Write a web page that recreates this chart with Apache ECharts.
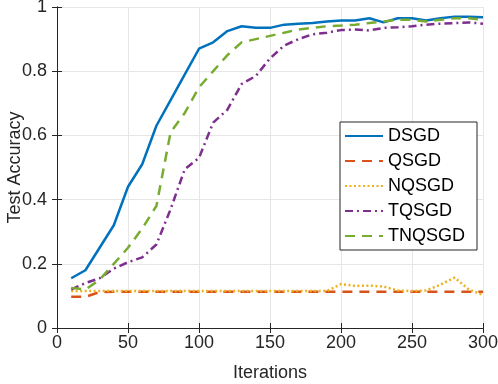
<!DOCTYPE html>
<html>
<head>
<meta charset="utf-8">
<script src="https://cdn.jsdelivr.net/npm/echarts@6/dist/echarts.min.js"></script>
<style>
  html, body { margin: 0; padding: 0; background: #fff; }
  #chart { width: 498px; height: 384px; }
</style>
</head>
<body>
<div id="chart"></div>
<script>
// iterations on the x axis
const iterations = [10, 20, 30, 40, 50, 60, 70, 80, 90, 100,
  110, 120, 130, 140, 150, 160, 170, 180, 190, 200,
  210, 220, 230, 240, 250, 260, 270, 280, 290, 300]

// test accuracy
const dsgd = [0.155, 0.18, 0.25, 0.32, 0.44, 0.51, 0.63, 0.71, 0.79, 0.87,
  0.89, 0.925, 0.94, 0.935, 0.935, 0.945, 0.948, 0.95, 0.955, 0.958,
  0.958, 0.965, 0.952, 0.965, 0.965, 0.958, 0.965, 0.97, 0.97, 0.968]
const qsgd = [0.097, 0.097, 0.112, 0.113, 0.113, 0.113, 0.113, 0.113, 0.113, 0.113,
  0.113, 0.113, 0.113, 0.113, 0.113, 0.113, 0.113, 0.113, 0.113, 0.113,
  0.113, 0.113, 0.113, 0.113, 0.113, 0.113, 0.113, 0.113, 0.113, 0.113]
const nqsgd = [0.115, 0.115, 0.115, 0.115, 0.115, 0.115, 0.115, 0.115, 0.115, 0.115,
  0.115, 0.115, 0.115, 0.115, 0.115, 0.115, 0.115, 0.115, 0.115, 0.137,
  0.131, 0.132, 0.129, 0.117, 0.115, 0.117, 0.135, 0.157, 0.12, 0.103]
const tqsgd = [0.12, 0.14, 0.155, 0.185, 0.205, 0.22, 0.26, 0.37, 0.495, 0.53,
  0.64, 0.68, 0.76, 0.785, 0.84, 0.88, 0.9, 0.915, 0.92, 0.928,
  0.93, 0.927, 0.935, 0.937, 0.94, 0.945, 0.948, 0.95, 0.952, 0.948]
const tnqsgd = [0.125, 0.12, 0.15, 0.2, 0.25, 0.31, 0.38, 0.61, 0.67, 0.75,
  0.8, 0.85, 0.89, 0.9, 0.91, 0.92, 0.93, 0.935, 0.94, 0.942,
  0.945, 0.95, 0.955, 0.96, 0.96, 0.955, 0.96, 0.965, 0.965, 0.96]

const seriesNames = ['DSGD', 'QSGD', 'NQSGD', 'TQSGD', 'TNQSGD']
const seriesData = [dsgd, qsgd, nqsgd, tqsgd, tnqsgd]

const colors = ['#0072BD', '#D95319', '#EDB120', '#7E2F8E', '#77AC30']
const dashes = ['solid', [10, 7], [2, 2.5], [8, 4, 2, 4], [10, 7]]

const font = 'Liberation Sans, Arial, Helvetica, sans-serif'
const textColor = '#262626'
const axisColor = '#262626'

const chart = echarts.init(document.getElementById('chart'))

function pairs (ys) {
  return iterations.map((x, i) => [x, ys[i]])
}

// box axes (top / right) just for the ticks
const tickOnly = {
  axisLine: { show: true, lineStyle: { color: axisColor, width: 1 } },
  axisTick: { show: true, inside: true, length: 5, lineStyle: { color: axisColor } },
  axisLabel: { show: false },
  splitLine: { show: false }
}

chart.setOption({
  animation: false,
  color: colors,
  grid: { left: 57, right: 15, top: 7, bottom: 56, containLabel: false, outerBoundsMode: 'none' },
  legend: {
    orient: 'vertical',
    left: 340,
    top: 122,
    padding: [5, 12, 5, 4],
    itemGap: 7,
    itemWidth: 38,
    itemHeight: 14,
    backgroundColor: '#fff',
    borderColor: axisColor,
    borderWidth: 1,
    borderRadius: 0,
    itemStyle: { opacity: 0 },
    textStyle: { fontFamily: font, fontSize: 18, color: '#000' },
    data: seriesNames
  },
  xAxis: [{
    type: 'value',
    min: 0,
    max: 300,
    interval: 50,
    name: 'Iterations',
    nameLocation: 'middle',
    nameGap: 36,
    nameMoveOverlap: false,
    nameTextStyle: { fontFamily: font, fontSize: 18, color: textColor },
    axisLine: { show: true, onZero: false, lineStyle: { color: axisColor, width: 1 } },
    axisTick: { show: true, inside: true, length: 5, lineStyle: { color: axisColor } },
    axisLabel: { fontFamily: font, fontSize: 18, color: textColor, margin: 6 },
    splitLine: { show: true, lineStyle: { color: '#e6e6e6', width: 1 } }
  }, Object.assign({ type: 'value', position: 'top', min: 0, max: 300, interval: 50 }, tickOnly)],
  yAxis: [{
    type: 'value',
    min: 0,
    max: 1,
    interval: 0.2,
    name: 'Test Accuracy',
    nameLocation: 'middle',
    nameGap: 33,
    nameMoveOverlap: false,
    nameTextStyle: { fontFamily: font, fontSize: 18, color: textColor },
    axisLine: { show: true, onZero: false, lineStyle: { color: axisColor, width: 1 } },
    axisTick: { show: true, inside: true, length: 5, lineStyle: { color: axisColor } },
    axisLabel: { fontFamily: font, fontSize: 18, color: textColor, margin: 10 },
    splitLine: { show: true, lineStyle: { color: '#e6e6e6', width: 1 } }
  }, Object.assign({ type: 'value', position: 'right', min: 0, max: 1, interval: 0.2 }, tickOnly)],
  series: seriesNames.map((name, i) => ({
    name: name,
    type: 'line',
    data: pairs(seriesData[i]),
    showSymbol: false,
    symbol: 'none',
    lineStyle: { color: colors[i], width: 2.5, type: dashes[i] },
    itemStyle: { color: colors[i] }
  }))
})
</script>
</body>
</html>
